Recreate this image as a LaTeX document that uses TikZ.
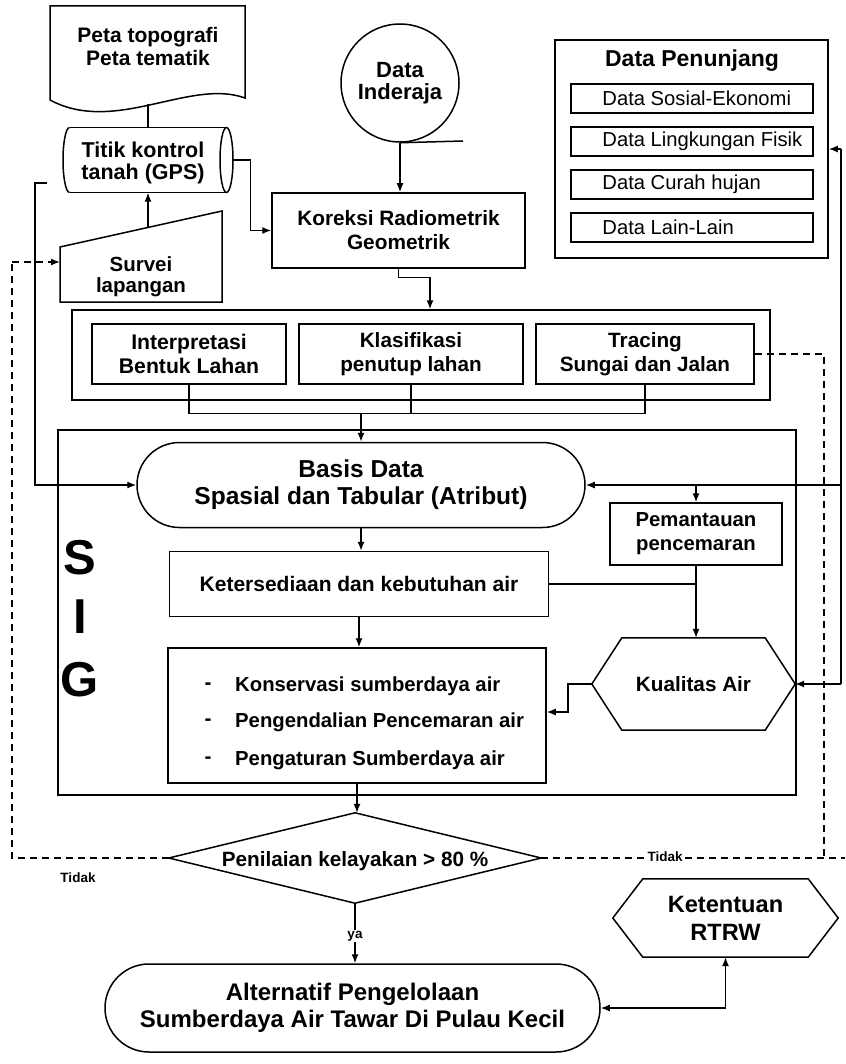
\documentclass[tikz,border=0pt]{standalone}
\usepackage{fontspec}
\setmainfont{Liberation Sans}
\usetikzlibrary{arrows.meta,shapes.geometric,shapes.misc,calc}
\newcommand\hexdraw[2]{\draw[line width=1.5pt] (#1.west) -- ([xshift=#2]#1.north west) -- ([xshift=-#2]#1.north east) -- (#1.east) -- ([xshift=-#2]#1.south east) -- ([xshift=#2]#1.south west) -- cycle;}
\begin{document}
\begin{tikzpicture}[x=1pt,y=-1pt,
  box/.style={draw, line width=1.5pt, inner sep=0pt},
  txt/.style={font=\bfseries\fontsize{20.7}{24}\selectfont, align=center, inner sep=0pt},
  subtxt/.style={font=\fontsize{20.2}{22}\selectfont, inner sep=0pt, anchor=west},
  con/.style={line width=1.3pt},
  arr/.style={con, -{Latex[length=9pt,width=7pt]}},
  dsh/.style={line width=1.3pt, dash pattern=on 7pt off 5pt},
  small/.style={font=\bfseries\fontsize{13.5}{16}\selectfont, inner sep=1pt, fill=white}
]
\useasboundingbox (0,0) rectangle (845,1064);

% --- Peta (document shape)
\draw[line width=1.5pt] (50,6) -- (245,6) -- (245,98) .. controls (190,78) and (115,135) .. (50,100) -- cycle;
\node[txt, font=\bfseries\fontsize{21}{23}\selectfont] (peta) at (148,46) {Peta topografi\\Peta tematik};
\coordinate (petab) at (148,104);

% --- GPS cylinder (horizontal)
\node[minimum width=170, minimum height=65, inner sep=0pt] (gps) at (148,160) {};
\draw[line width=1.5pt] (69.5,127.5) -- (226.5,127.5) (69.5,192.5) -- (226.5,192.5);
\draw[line width=1.5pt] (226.5,160) ellipse [x radius=6.5, y radius=32.5];
\draw[line width=1.5pt] (69.5,127.5) arc[start angle=-90, end angle=-270, x radius=6.5, y radius=32.5];
\node[txt, font=\bfseries\fontsize{21.5}{22}\selectfont] (gpst) at (143,163) {Titik kontrol\\tanah (GPS)};

% --- Survei (manual input)
\draw[line width=1.5pt] (60,247) -- (222,211) -- (222,302) -- (60,302) -- cycle;
\node[txt, font=\bfseries\fontsize{20.5}{21}\selectfont] (survei) at (141,277) {Survei\\lapangan};
\coordinate (survtop) at (148,227.4);
\coordinate (survleft) at (60,262);

% --- Data Inderaja
\node[box, circle, minimum size=118, txt, font=\bfseries\fontsize{22}{22}\selectfont] (ind) at (400,83) {Data\\Inderaja};
\coordinate (tape) at (463,141);
\draw[line width=1.5pt] (ind.south) -- (tape);

% --- Koreksi
\node[box, minimum width=253, minimum height=75, txt, font=\bfseries\fontsize{20.8}{24}\selectfont] (kor) at (398.5,230.5) {Koreksi Radiometrik\\Geometrik};

% --- Data Penunjang
\node[box, minimum width=273, minimum height=218] (dp) at (691.5,149) {};
\node[font=\bfseries\fontsize{23}{24}\selectfont, inner sep=0pt] (dpt) at (692,61) {Data Penunjang};
\node[box, minimum width=242, minimum height=29] (d1) at (692,98.5) {};
\node[box, minimum width=242, minimum height=29] (d2) at (692,141.5) {};
\node[box, minimum width=242, minimum height=29] (d3) at (692,184.5) {};
\node[box, minimum width=242, minimum height=29] (d4) at (692,227.5) {};
\node[subtxt] (t1) at ($(d1.west)+(32,0)$) {Data Sosial-Ekonomi};
\node[subtxt] (t2) at ($(d2.west)+(32,0)$) {Data Lingkungan Fisik};
\node[subtxt] (t3) at ($(d3.west)+(32,0)$) {Data Curah hujan};
\node[subtxt] (t4) at ($(d4.west)+(32,0)$) {Data Lain-Lain};

% --- Group of interpretation boxes
\node[box, minimum width=698, minimum height=90] (grp) at (421,355) {};
\node[box, minimum width=194, minimum height=60, txt, font=\bfseries\fontsize{21.2}{24}\selectfont] (interp) at (189,354) {Interpretasi\\Bentuk Lahan};
\node[box, minimum width=224, minimum height=60, txt] (klas) at (411,354) {Klasifikasi\\penutup lahan};
\node[box, minimum width=218, minimum height=60, txt] (trac) at (645,354) {Tracing\\Sungai dan Jalan};

% --- SIG box
\node[box, minimum width=738, minimum height=365] (sig) at (427,612.5) {};
\node[font=\bfseries\fontsize{49}{50}\selectfont, inner sep=0pt] (sS) at (80,558) {S};
\node[font=\bfseries\fontsize{49}{50}\selectfont, inner sep=0pt] (sI) at (80,617) {I};
\node[font=\bfseries\fontsize{49}{50}\selectfont, inner sep=0pt] (sG) at (80,680) {G};

\node[box, rounded rectangle, minimum width=448, minimum height=85, txt, font=\bfseries\fontsize{24.5}{27}\selectfont] (basis) at (361,485) {Basis Data\\Spasial dan Tabular (Atribut)};
\node[box, minimum width=172, minimum height=62, txt, font=\bfseries\fontsize{20.3}{24}\selectfont] (pem) at (696,534) {Pemantauan\\pencemaran};
\node[box, minimum width=379, minimum height=65, txt, font=\bfseries\fontsize{21}{24}\selectfont] (kets) at (359,584) {Ketersediaan dan kebutuhan air};
\node[box, minimum width=378, minimum height=135] (list) at (357,715.5) {};
\node[txt] (b1) at (208,686) {-};
\node[txt] (b2) at (208,722) {-};
\node[txt] (b3) at (208,760) {-};
\node[txt, anchor=west, font=\bfseries\fontsize{20.3}{24}\selectfont] (l1) at (235,686) {Konservasi sumberdaya air};
\node[txt, anchor=west, font=\bfseries\fontsize{20.3}{24}\selectfont] (l2) at (235,722) {Pengendalian Pencemaran air};
\node[txt, anchor=west, font=\bfseries\fontsize{20.3}{24}\selectfont] (l3) at (235,760) {Pengaturan Sumberdaya air};
\node[minimum width=203, minimum height=92, txt, inner sep=0pt] (kual) at (693.5,684) {Kualitas Air};
\hexdraw{kual}{30pt}

% --- Diamond
\node[minimum width=372, minimum height=90, inner sep=0pt] (dia) at (355,858) {};
\draw[line width=1.5pt] (dia.north) -- (dia.east) -- (dia.south) -- (dia.west) -- cycle;
\node[txt] (diat) at (355,861) {Penilaian kelayakan > 80 \%};

% --- Bottom
\node[box, rounded rectangle, minimum width=495, minimum height=88, txt, font=\bfseries\fontsize{24}{27}\selectfont] (alt) at (352.5,1008) {Alternatif Pengelolaan\\Sumberdaya Air Tawar Di Pulau Kecil};
\node[minimum width=225, minimum height=78, txt, inner sep=0pt, font=\bfseries\fontsize{23.6}{28}\selectfont] (ket) at (725.5,918) {Ketentuan\\RTRW};
\hexdraw{ket}{30pt}

% ================= connectors
\draw[con] (petab) -- (gps.north);
\draw[arr] (survtop) -- (gps.south);
\draw[arr] (gps.east) -- ++(17,0) |- (kor.west);
\draw[arr] (ind.south) -- (ind.south |- kor.north);
\draw[arr] (kor.south) -- ++(0,9) -| ([xshift=9pt]grp.north);

\coordinate (j) at (361,413.5);
\draw[con] (interp.south) -- (interp.south |- j) -- (trac.south |- j) -- (trac.south);
\draw[con] (klas.south) -- (klas.south |- j);
\draw[arr] (j) -- (basis.north);

\coordinate (ltop) at (47,183);
\draw[arr] (ltop) -- (35,183) |- (basis.west);

\coordinate (r1) at (841,149);
\coordinate (r3) at (841,684);
\draw[arr] (r1) -- (dp.east);
\draw[con] (r1) -- (r3);
\draw[arr] (r3) -- (kual.east);
\draw[arr] (basis.east -| r1) -- (basis.east);
\draw[arr] (basis.east -| pem.north) -- (pem.north);

\draw[arr] (basis.south) -- (basis.south |- kets.north);
\draw[con] (kets.east) -- (kets.east -| pem.south);
\draw[arr] (pem.south) -- (pem.south |- kual.north);
\draw[arr] (kets.south) -- (kets.south |- list.north);
\draw[arr] (kual.west) -- (568,684) -- (568,712) -- (list.east |- 568,712);
\draw[arr] (list.south) -- (list.south |- dia.north);

\draw[arr] (dia.south) -- (dia.south |- alt.north);
\node[small] (ya) at (355,936) {ya};
\draw[{Latex[length=9pt,width=7pt]}-{Latex[length=9pt,width=7pt]}, con] (ket.south) |- (alt.east);

% dashed feedback loops
\draw[dsh] (dia.west) -- (12,858) -- (12,262);
\draw[dsh, -{Latex[length=9pt,width=7pt]}] (12,262) -- (survleft);
\coordinate (redge) at (845,858);
\draw[dsh] (dia.east) -- (redge);
\draw[dsh] (trac.east) -- (824,354) -- (824,858);
\node[small] (tid1) at (665,857) {Tidak};
\node[small] (tid2) at (78,878) {Tidak};
\end{tikzpicture}
\end{document}
